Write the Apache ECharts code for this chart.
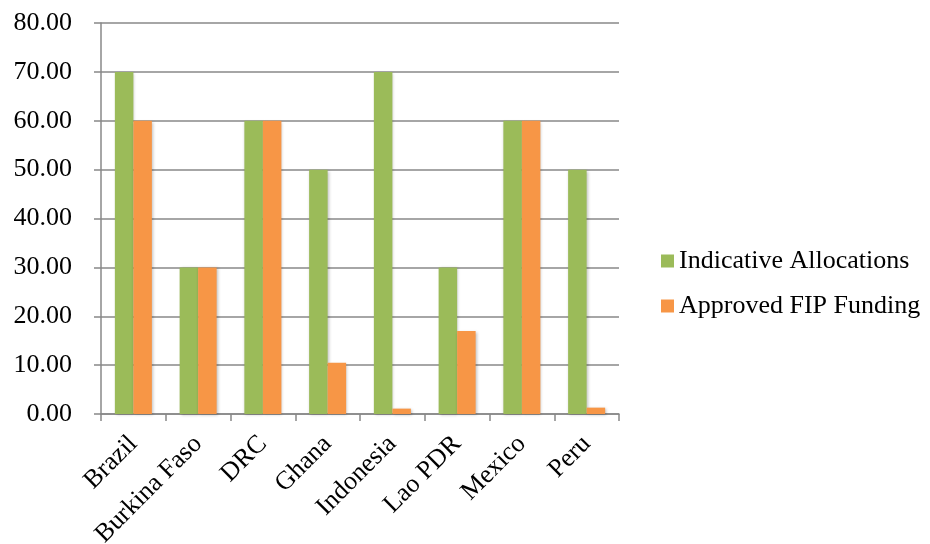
<!DOCTYPE html>
<html>
<head>
<meta charset="utf-8">
<script src="https://cdn.jsdelivr.net/npm/echarts@6/dist/echarts.min.js"></script>
<style>
  html, body { margin: 0; padding: 0; background: #fff; }
  #chart { width: 930px; height: 544px; }
</style>
</head>
<body>
<div id="chart"></div>
<script>
// data
var countries = ['Brazil', 'Burkina Faso', 'DRC', 'Ghana', 'Indonesia', 'Lao PDR', 'Mexico', 'Peru'];
var indicative = [70, 30, 60, 50, 70, 30, 60, 50];
var approved = [60, 30, 60, 10.5, 1.1, 17, 60, 1.3];

var myChart = echarts.init(document.getElementById('chart'));
var font = '"Liberation Serif", "Times New Roman", serif';

var option = {
    animation: false,
    textStyle: { fontFamily: font },
    grid: {
        left: 101,
        right: 311,
        top: 23,
        bottom: 130,
        outerBoundsMode: 'none'
    },
    legend: {
        orient: 'vertical',
        left: 656,
        top: 243,
        itemWidth: 13,
        itemHeight: 13,
        itemGap: 19,
        icon: 'rect',
        textStyle: { fontFamily: font, fontSize: 26, color: '#000' }
    },
    xAxis: {
        type: 'category',
        data: countries,
        axisLine: { lineStyle: { color: '#888', width: 1.5 } },
        axisTick: { show: true, length: 7, lineStyle: { color: '#888', width: 1.5 } },
        axisLabel: {
            rotate: 45,
            fontFamily: font,
            fontSize: 26,
            color: '#000',
            interval: 0,
            margin: 26
        }
    },
    yAxis: {
        type: 'value',
        min: 0,
        max: 80,
        interval: 10,
        axisLine: { show: true, lineStyle: { color: '#888', width: 1.5 } },
        axisTick: { show: true, length: 7, lineStyle: { color: '#888', width: 1.5 } },
        splitLine: { lineStyle: { color: '#888', width: 1.5 } },
        axisLabel: {
            fontFamily: font,
            fontSize: 26,
            color: '#000',
            margin: 29,
            formatter: function (v) { return v.toFixed(2); }
        }
    },
    series: [
        {
            name: 'Indicative Allocations',
            type: 'bar',
            data: indicative,
            barWidth: 18.5,
            barGap: '0%',
            itemStyle: {
                color: '#9BBB59',
                shadowColor: 'rgba(0,0,0,0.25)',
                shadowBlur: 3,
                shadowOffsetX: 1,
                shadowOffsetY: 1
            }
        },
        {
            name: 'Approved FIP Funding',
            type: 'bar',
            data: approved,
            barWidth: 18.5,
            barGap: '0%',
            itemStyle: {
                color: '#F79646',
                shadowColor: 'rgba(0,0,0,0.25)',
                shadowBlur: 3,
                shadowOffsetX: 1,
                shadowOffsetY: 1
            }
        }
    ]
};

myChart.setOption(option);
window.addEventListener('resize', function () {
    myChart.resize();
});
</script>
</body>
</html>
